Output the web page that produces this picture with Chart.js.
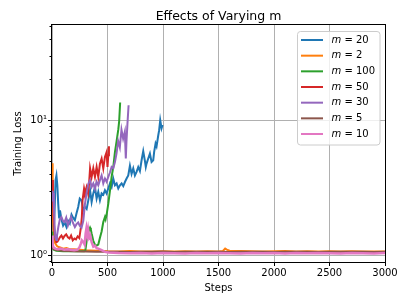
<!DOCTYPE html>
<html lang="en">
<head>
<meta charset="UTF-8" />
<title>Effects of Varying m</title>
<script src="https://cdn.jsdelivr.net/npm/chart.js@4.4.1/dist/chart.umd.min.js"></script>
<style>
  body { margin: 0; background: #fff; }
</style>
</head>
<body>
<canvas id="chart" width="411" height="308"></canvas>
<script>
// ---------- values ----------
const mValues = ['20', '2', '100', '50', '30', '5', '10'];

// m = 20 (blue)
const stepsM20 = [0, 8, 16, 24, 32, 40, 48, 56, 64, 72, 85, 100, 115, 130, 145, 160, 176, 190, 206, 221,
  236, 250, 266, 282, 297, 312, 327, 343, 357, 372, 387, 402, 417, 432, 447, 462, 477, 492, 507, 522,
  537, 552, 567, 582, 597, 612, 627, 642, 658, 672, 687, 702, 717, 732, 747, 762, 777, 792, 807, 822,
  837, 845, 852, 867, 882, 897, 912, 920, 933, 942, 957, 965, 975, 987, 996];
const lossM20 = [2.3, 1.7, 1.5, 2.2, 3.6, 3.9, 3.3, 2.4, 1.9, 2.15, 1.85, 1.66, 1.75, 1.62, 1.8, 1.72, 2.0, 1.9, 1.82, 2.05,
  2.28, 2.63, 2.55, 2.15, 2.28, 2.2, 2.55, 3.03, 2.48, 2.87, 3.2, 2.63, 2.95, 2.55, 2.87, 2.8, 3.03, 2.87, 3.12, 3.4,
  3.2, 3.7, 3.3, 3.4, 3.12, 3.3, 3.4, 3.25, 3.5, 3.7, 3.9, 4.6, 4.0, 4.4, 3.9, 4.14, 4.5, 4.2, 5.05, 5.9,
  5.0, 4.5, 4.77, 5.2, 5.66, 4.9, 5.05, 5.8, 6.7, 6.4, 7.7, 8.4, 10.0, 8.7, 9.2];

// m = 2 (orange)
const stepsM2 = [0, 4, 8, 14, 20, 30, 45, 60, 80, 100, 130, 160, 200, 250, 300, 350, 400, 450, 500, 600,
  700, 800, 900, 1000, 1100, 1200, 1300, 1400, 1500, 1540, 1560, 1575, 1600, 1700, 1800, 1900, 2000, 2100, 2200, 2300,
  2400, 2500, 2600, 2700, 2800, 2900, 3000];
const lossM2 = [4.8, 3.0, 2.0, 1.5, 1.3, 1.22, 1.17, 1.15, 1.14, 1.12, 1.13, 1.11, 1.11, 1.1, 1.09, 1.085, 1.08, 1.075, 1.07, 1.065,
  1.075, 1.068, 1.065, 1.07, 1.066, 1.072, 1.065, 1.07, 1.068, 1.075, 1.12, 1.1, 1.08, 1.075, 1.07, 1.066, 1.072, 1.075, 1.066, 1.07,
  1.065, 1.07, 1.066, 1.072, 1.068, 1.065, 1.068];

// m = 100 (green)
const stepsM100 = [0, 5, 15, 40, 100, 200, 290, 300, 313, 328, 343, 350, 357, 372, 387, 402, 417, 432, 447, 462,
  477, 483, 492, 507, 522, 537, 552, 567, 582, 597, 605, 614];
const lossM100 = [1.5, 1.15, 1.1, 1.08, 1.07, 1.07, 1.07, 1.08, 1.29, 1.49, 1.6, 1.55, 1.45, 1.28, 1.2, 1.18, 1.2, 1.35, 1.5, 1.76,
  1.92, 1.85, 2.0, 2.4, 3.0, 3.8, 4.5, 5.8, 7.0, 8.5, 9.8, 13.5];

// m = 50 (red)
const stepsM50 = [0, 8, 16, 24, 32, 40, 48, 57, 71, 85, 99, 113, 128, 143, 158, 172, 187, 202, 216, 231,
  246, 260, 269, 275, 289, 297, 312, 325, 334, 343, 357, 372, 387, 402, 417, 432, 447, 462, 477, 492,
  500, 507, 513];
const lossM50 = [3.6, 2.6, 1.8, 1.45, 1.3, 1.25, 1.26, 1.29, 1.36, 1.4, 1.33, 1.39, 1.43, 1.36, 1.33, 1.4, 1.29, 1.33, 1.31, 1.38,
  1.34, 1.6, 1.92, 2.55, 3.12, 2.9, 3.2, 2.87, 3.4, 4.4, 3.8, 4.4, 3.8, 4.5, 3.8, 4.77, 5.2, 4.4, 5.35, 5.8,
  4.5, 5.5, 6.4];

// m = 30 (purple)
const stepsM30 = [0, 6, 12, 18, 24, 30, 38, 45, 57, 71, 85, 99, 113, 128, 143, 158, 172, 187, 206, 221,
  236, 251, 266, 282, 297, 312, 328, 343, 357, 372, 387, 402, 417, 432, 447, 462, 477, 492, 507, 522,
  537, 552, 567, 581, 596, 611, 626, 641, 656, 665, 671, 680, 690];
const lossM30 = [3.0, 2.5, 2.9, 2.2, 1.6, 1.35, 1.3, 1.4, 1.62, 1.85, 1.92, 1.8, 1.76, 1.9, 1.66, 1.8, 1.92, 1.75, 1.62, 1.7,
  1.75, 1.65, 1.6, 1.8, 2.4, 2.9, 3.4, 3.6, 3.2, 3.4, 3.1, 3.5, 3.3, 3.6, 3.9, 3.4, 3.7, 3.5, 3.8, 4.1,
  4.5, 4.4, 4.9, 5.66, 7.0, 6.3, 8.5, 7.3, 8.2, 5.2, 7.0, 9.5, 12.9];

// m = 5 (brown)
const stepsM5 = [0, 10, 30, 60, 100, 150, 200, 300, 400, 500, 600, 700, 800, 900, 1000, 1100, 1200, 1300, 1400, 1500,
  1600, 1700, 1800, 1900, 2000, 2100, 2200, 2300, 2400, 2500, 2600, 2700, 2800, 2900, 3000];
const lossM5 = [1.18, 1.12, 1.1, 1.09, 1.08, 1.075, 1.07, 1.065, 1.062, 1.06, 1.064, 1.058, 1.062, 1.06, 1.065, 1.058, 1.062, 1.06, 1.064, 1.06,
  1.058, 1.062, 1.06, 1.064, 1.058, 1.062, 1.06, 1.063, 1.058, 1.062, 1.06, 1.062, 1.06, 1.058, 1.06];

// m = 10 (pink)
const stepsM10 = [0, 6, 15, 30, 50, 80, 110, 140, 170, 200, 230, 246, 260, 269, 283, 294, 303, 310, 318, 325,
  335, 345, 357, 372, 387, 402, 417, 447, 477, 510, 600, 700, 800, 900, 1000, 1100, 1200, 1300, 1400, 1500,
  1600, 1700, 1800, 1900, 2000, 2100, 2200, 2300, 2400, 2500, 2600, 2700, 2800, 2900, 3000];
const lossM10 = [1.4, 1.2, 1.14, 1.12, 1.11, 1.12, 1.1, 1.11, 1.1, 1.09, 1.1, 1.14, 1.22, 1.29, 1.25, 1.2, 1.45, 1.58, 1.42, 1.55,
  1.35, 1.4, 1.25, 1.16, 1.18, 1.13, 1.12, 1.09, 1.06, 1.05, 1.04, 1.035, 1.042, 1.032, 1.04, 1.035, 1.03, 1.04, 1.034, 1.04,
  1.036, 1.03, 1.04, 1.034, 1.04, 1.032, 1.038, 1.034, 1.04, 1.035, 1.03, 1.04, 1.036, 1.032, 1.038];

const xTicks = [0, 500, 1000, 1500, 2000, 2500, 3000];
const yMajorTicks = [1, 10];
const yMinorTicks = [0.9, 2, 3, 4, 5, 6, 7, 8, 9, 20, 30, 40, 50];
const yLabels = { 1: '10\u2070', 10: '10\u00b9' };

// ---------- styling ----------
const colors = ['#1f77b4', '#ff7f0e', '#2ca02c', '#d62728', '#9467bd', '#8c564b', '#e377c2'];
const allSteps = [stepsM20, stepsM2, stepsM100, stepsM50, stepsM30, stepsM5, stepsM10];
const allLoss = [lossM20, lossM2, lossM100, lossM50, lossM30, lossM5, lossM10];
const FONT = '"DejaVu Sans", sans-serif';

const datasets = mValues.map((m, i) => ({
  label: 'm = ' + m,
  data: allSteps[i].map((s, k) => ({ x: s, y: allLoss[i][k] })),
  borderColor: colors[i],
  backgroundColor: colors[i],
  borderWidth: i === 6 ? 2.5 : 2,
  pointRadius: 0,
  tension: 0,
  order: mValues.length - i   // later series on top, like matplotlib
}));

// titles, frame, minor ticks and the legend box
const decor = {
  id: 'decor',
  afterDraw(chart) {
    const { ctx, chartArea: a } = chart;
    const yScale = chart.scales.y;
    ctx.save();

    // frame
    ctx.strokeStyle = '#000';
    ctx.lineWidth = 1;
    const l = Math.round(a.left) - 0.5, r = Math.round(a.right) + 0.5;
    const t = Math.round(a.top) - 0.5, b = Math.round(a.bottom) + 0.5;
    ctx.strokeRect(l, t, r - l, b - t);

    // minor y ticks
    ctx.beginPath();
    yMinorTicks.forEach(v => {
      const y = Math.round(yScale.getPixelForValue(v)) + 0.5;
      ctx.moveTo(l - 2, y);
      ctx.lineTo(l, y);
    });
    ctx.stroke();

    // title + axis titles
    ctx.fillStyle = '#000';
    ctx.textAlign = 'center';
    ctx.textBaseline = 'alphabetic';
    ctx.font = '12.5px ' + FONT;
    ctx.fillText('Effects of Varying m', (a.left + a.right) / 2, 20);
    ctx.font = '10px ' + FONT;
    ctx.fillText('Steps', (a.left + a.right) / 2, 290.5);
    ctx.save();
    ctx.translate(20.5, (a.top + a.bottom) / 2);
    ctx.rotate(-Math.PI / 2);
    ctx.fillText('Training Loss', 0, 0);
    ctx.restore();

    // legend
    const lx = 297.5, ly = 31.5, lw = 82.5, lh = 113.5;
    ctx.beginPath();
    ctx.roundRect(lx, ly, lw, lh, 3);
    ctx.fillStyle = 'rgba(255,255,255,0.8)';
    ctx.fill();
    ctx.strokeStyle = '#cccccc';
    ctx.stroke();
    ctx.textAlign = 'left';
    ctx.textBaseline = 'middle';
    mValues.forEach((m, i) => {
      const y = 40 + i * 15.67;
      ctx.beginPath();
      ctx.strokeStyle = colors[i];
      ctx.lineWidth = 2;
      ctx.moveTo(301, y);
      ctx.lineTo(323, y);
      ctx.stroke();
      ctx.fillStyle = '#000';
      ctx.font = 'italic 10px ' + FONT;
      ctx.fillText('m', 331.5, y);
      const w = ctx.measureText('m').width;
      ctx.font = '10px ' + FONT;
      ctx.fillText(' = ' + m, 331.5 + w, y);
    });
    ctx.restore();
  }
};

new Chart(document.getElementById('chart').getContext('2d'), {
  type: 'line',
  data: { datasets },
  options: {
    responsive: false,
    animation: false,
    events: [],
    layout: { padding: { top: 25, right: 26, left: 0, bottom: 0 } },
    plugins: { legend: { display: false }, tooltip: { enabled: false }, title: { display: false } },
    scales: {
      x: {
        type: 'linear',
        min: 0,
        max: 3000,
        afterBuildTicks: s => { s.ticks = xTicks.map(v => ({ value: v })); },
        afterFit: s => { s.height = 46; },
        ticks: {
          color: '#000',
          font: { family: FONT, size: 10 },
          padding: 1,
          maxRotation: 0,
          callback: v => String(v)
        },
        grid: { color: '#b0b0b0', lineWidth: 1, tickColor: '#000', tickLength: 4 },
        border: { display: false }
      },
      y: {
        type: 'logarithmic',
        min: 0.892,
        max: 50.6,
        afterBuildTicks: s => { s.ticks = yMajorTicks.map(v => ({ value: v, major: true })); },
        afterFit: s => { s.width = 52; },
        ticks: {
          color: '#000',
          font: { family: FONT, size: 10 },
          padding: 1,
          callback: v => yLabels[v] || ''
        },
        grid: { color: '#b0b0b0', lineWidth: 1, tickColor: '#000', tickLength: 4 },
        border: { display: false }
      }
    }
  },
  plugins: [decor]
});
</script>
</body>
</html>
